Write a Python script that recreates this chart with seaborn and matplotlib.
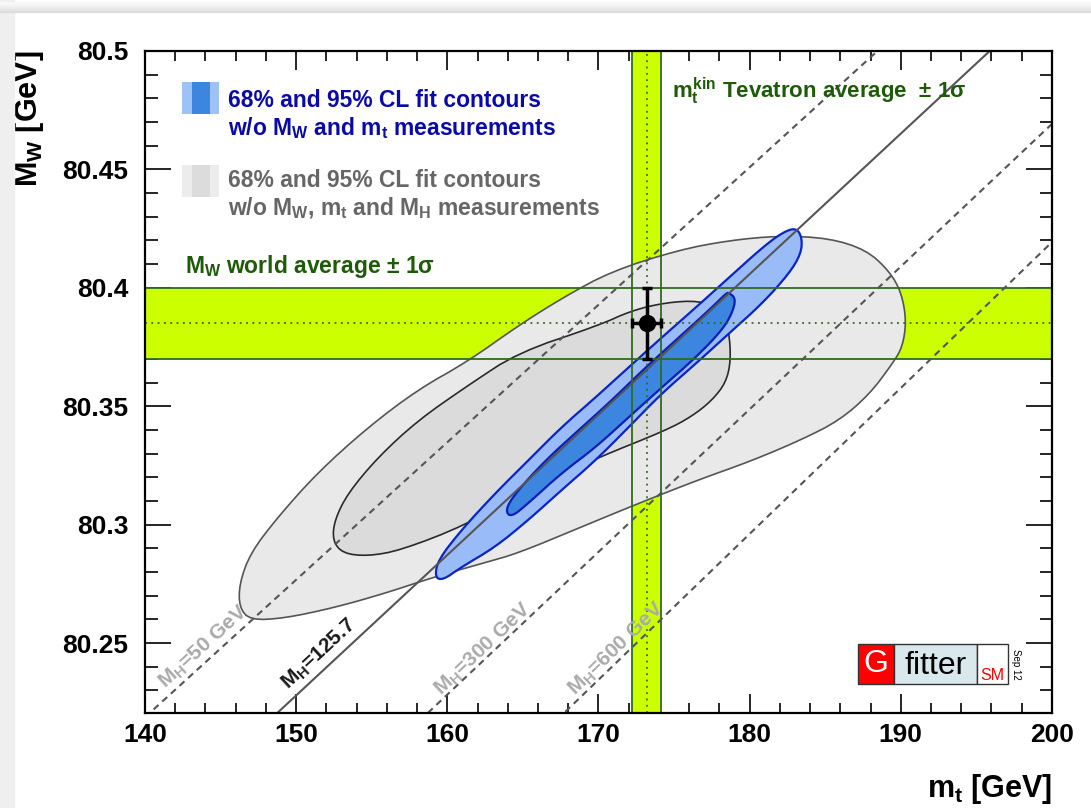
import numpy as np
import matplotlib
matplotlib.use("Agg")
import matplotlib.pyplot as plt
from matplotlib.patches import Rectangle
import seaborn as sns

# -------------------------------------------------
# Data read off the Gfitter (Sep 12) M_W vs m_t plot
# -------------------------------------------------
x_ticks = [140, 150, 160, 170, 180, 190, 200]
y_ticks = [80.25, 80.30, 80.35, 80.40, 80.45, 80.50]
y_tick_labels = ["80.25", "80.3", "80.35", "80.4", "80.45", "80.5"]

# direct measurements
mw_avg, mw_err = 80.385, 0.015
mt_avg, mt_err = 173.18, 0.94

# SM lines for fixed Higgs mass (M_W at m_t = 140 and 200 GeV)
mh_names = ["50 GeV", "125.7", "300 GeV", "600 GeV"]
mh_mw_at_140 = [80.2187, 80.1686, 80.1078, 80.0497]
mh_mw_at_200 = [80.5670, 80.5244, 80.4692, 80.4193]
mh_label_mt = [143.9, 151.55, 162.4, 171.2]
mh_label_mw = [80.2485, 80.2455, 80.2475, 80.2475]

# fit contours w/o M_W, m_t and M_H (95% and 68%)
gray95_mt = [146.24, 146.24, 146.97, 148.76, 151.42, 154.73, 158.05, 161.37, 164.69,
             167.68, 170.86, 175.31, 178.63, 181.95, 185.26, 187.72, 189.25, 190.04,
             190.37, 190.11, 189.45, 187.92, 185.93, 183.47, 180.15, 176.64, 172.65,
             168.67, 164.69, 162.50, 159.18, 155.86, 152.54, 149.23, 146.97]
gray95_mw = [80.265, 80.275, 80.288, 80.303, 80.322, 80.341, 80.357, 80.369, 80.384,
             80.396, 80.407, 80.416, 80.420, 80.422, 80.421, 80.416, 80.407, 80.398,
             80.386, 80.375, 80.368, 80.355, 80.344, 80.336, 80.327, 80.319, 80.309,
             80.2985, 80.288, 80.284, 80.278, 80.271, 80.265, 80.2605, 80.2597]

gray68_mt = [152.41, 152.54, 153.41, 155.40, 158.05, 161.37, 164.69, 170.00, 172.19,
             174.45, 176.64, 178.16, 178.63, 178.76, 178.43, 177.50, 176.17, 174.45,
             170.00, 165.55, 161.17, 156.92, 154.73, 153.07]
gray68_mw = [80.2934, 80.3019, 80.3132, 80.3284, 80.3440, 80.3588, 80.3727, 80.3841,
             80.3904, 80.3938, 80.3946, 80.3912, 80.3820, 80.3693, 80.3600, 80.3524,
             80.3457, 80.3398, 80.3284, 80.3153, 80.2997, 80.2892, 80.2867, 80.2879]

# fit contours w/o M_W and m_t (95% and 68%)
blue95_mt = [159.18, 159.38, 160.91, 163.16, 165.35, 167.54, 169.80, 171.99, 174.18,
             176.44, 178.63, 180.82, 182.15, 183.07, 183.47, 183.40, 182.61, 180.82,
             178.63, 176.44, 174.18, 171.99, 169.80, 167.54, 165.35, 163.16, 160.91,
             159.71]
blue95_mw = [80.2778, 80.2850, 80.2976, 80.3132, 80.3271, 80.3411, 80.3537, 80.3664,
             80.3790, 80.3917, 80.4043, 80.4169, 80.4233, 80.4254, 80.4212, 80.4144,
             80.4060, 80.3933, 80.3807, 80.3680, 80.3554, 80.3411, 80.3271, 80.3145,
             80.3019, 80.2905, 80.2820, 80.2766]

blue68_mt = [163.83, 164.49, 166.48, 168.67, 170.86, 173.12, 175.31, 177.50, 178.43,
             178.63, 179.09, 178.83, 178.16, 176.44, 174.18, 171.99, 169.80, 167.54,
             165.35, 164.22]
blue68_mw = [80.3061, 80.3132, 80.3271, 80.3398, 80.3524, 80.3664, 80.3790, 80.3917,
             80.3976, 80.3980, 80.3954, 80.3891, 80.3820, 80.3706, 80.3579, 80.3453,
             80.3326, 80.3217, 80.3090, 80.3031]

# colours
band_yellow = "#ccff00"
band_green = "#2f6b1f"
text_green = "#1e5a0a"


def smooth_closed(xs, ys, n_iter=2):
    # Chaikin corner cutting for a closed contour
    pts = np.column_stack([xs, ys]).astype(float)
    for _ in range(n_iter):
        nxt = np.roll(pts, -1, axis=0)
        q = 0.75 * pts + 0.25 * nxt
        r = 0.25 * pts + 0.75 * nxt
        new = np.empty((2 * len(pts), 2))
        new[0::2] = q
        new[1::2] = r
        pts = new
    return pts[:, 0], pts[:, 1]


sns.set_theme(style="ticks")
plt.rcParams["font.family"] = ["Liberation Sans", "DejaVu Sans"]
plt.rcParams["font.weight"] = "bold"
plt.rcParams["mathtext.fontset"] = "custom"
plt.rcParams["mathtext.rm"] = "Liberation Sans:bold"
plt.rcParams["mathtext.it"] = "Liberation Sans:bold"
plt.rcParams["mathtext.bf"] = "Liberation Sans:bold"

fig = plt.figure(figsize=(10.91, 8.08), dpi=100)
ax = fig.add_axes([0.1329, 0.1176, 0.8313, 0.8193])
ax.set_facecolor("white")

# screenshot frame
fig.patches.append(Rectangle((0, 0), 14 / 1091, 1, transform=fig.transFigure,
                             color="#efefef", zorder=0))
for i, c in enumerate(["#dcdcdc", "#e4e4e4", "#ebebeb", "#f1f1f1", "#f7f7f7"]):
    fig.patches.append(Rectangle((0, 1 - (12 - 2 * i) / 808), 1, 2 / 808,
                                 transform=fig.transFigure, color=c, zorder=0))

ax.set_xlim(140, 200)
ax.set_ylim(80.2205, 80.5)

# measurement bands
ax.axhspan(mw_avg - mw_err, mw_avg + mw_err, color=band_yellow, lw=0, zorder=1)
ax.axvspan(mt_avg - mt_err, mt_avg + mt_err, color=band_yellow, lw=0, zorder=1)

# contours
x, y = smooth_closed(gray95_mt, gray95_mw)
ax.fill(x, y, facecolor="#e9e9e9", edgecolor="#555555", lw=1.2, zorder=2)
x, y = smooth_closed(gray68_mt, gray68_mw)
ax.fill(x, y, facecolor="#dbdbdb", edgecolor="#2a2a2a", lw=1.2, zorder=3)
x, y = smooth_closed(blue95_mt, blue95_mw)
ax.fill(x, y, facecolor="#99bbf8", edgecolor="#0a24c8", lw=1.6, zorder=4)
x, y = smooth_closed(blue68_mt, blue68_mw)
ax.fill(x, y, facecolor="#3d86e0", edgecolor="#0a1fb8", lw=1.6, zorder=5)

# band edges and central values
for v in (mw_avg - mw_err, mw_avg + mw_err):
    ax.axhline(v, color=band_green, lw=1.3, zorder=6)
for v in (mt_avg - mt_err, mt_avg + mt_err):
    ax.axvline(v, color=band_green, lw=1.3, zorder=6)
ax.axhline(mw_avg, color=band_green, lw=1.3, ls=(0, (1, 2.5)), zorder=6)
ax.axvline(mt_avg, color=band_green, lw=1.3, ls=(0, (1, 2.5)), zorder=6)

# fixed-M_H lines
for name, y0, y1, lx, ly in zip(mh_names, mh_mw_at_140, mh_mw_at_200,
                                mh_label_mt, mh_label_mw):
    solid = name == "125.7"
    sns.lineplot(x=[140, 200], y=[y0, y1], ax=ax, color="#555555",
                 lw=1.5, zorder=7)
    line = ax.lines[-1]
    if not solid:
        line.set_dashes([3.2, 2.4])
    p0 = ax.transData.transform((140, y0))
    p1 = ax.transData.transform((200, y1))
    ang = np.degrees(np.arctan2(p1[1] - p0[1], p1[0] - p0[0]))
    ax.text(lx, ly, r"$M_H$=" + name, rotation=ang, rotation_mode="anchor",
            ha="center", va="center", fontsize=15, fontweight="bold",
            color="#1a1a1a" if solid else "#aaaaaa", zorder=8)

# measured point
ax.errorbar(mt_avg, mw_avg, xerr=mt_err, yerr=mw_err, fmt="o", color="black",
            ms=11.5, elinewidth=2.5, capsize=3.5, capthick=2.5, zorder=9)

# axes styling
ax.set_xticks(x_ticks)
ax.set_xticks(np.arange(140, 201, 2), minor=True)
ax.set_yticks(y_ticks)
ax.set_yticklabels(y_tick_labels)
ax.set_yticks(np.arange(80.23, 80.501, 0.01), minor=True)
ax.tick_params(which="both", direction="in", top=True, right=True, width=1.2,
               color="black", labelsize=19, labelcolor="black")
ax.tick_params(axis="x", which="major", length=14, pad=7)
ax.tick_params(axis="x", which="minor", length=7)
ax.tick_params(axis="y", which="major", length=19, pad=12)
ax.tick_params(axis="y", which="minor", length=9)
for lab in ax.get_xticklabels() + ax.get_yticklabels():
    lab.set_fontweight("bold")
for sp in ax.spines.values():
    sp.set_linewidth(1.6)
    sp.set_color("black")
    sp.set_zorder(10)

ax.set_xlabel(r"$m_t$ [GeV]", loc="right", fontsize=22, fontweight="bold",
              color="black")
ax.xaxis.set_label_coords(1.0, -0.089)
ax.set_ylabel(r"$M_W$ [GeV]", loc="top", fontsize=22, fontweight="bold",
              color="black")
ax.yaxis.set_label_coords(-0.109, 1.0)

# legend-like annotations
ax.add_patch(Rectangle((0.0408, 0.9048), 0.0408, 0.0484, transform=ax.transAxes,
                       color="#9ec1f7", lw=0, zorder=11))
ax.add_patch(Rectangle((0.0518, 0.9048), 0.0199, 0.0484, transform=ax.transAxes,
                       color="#3d86e0", lw=0, zorder=12))
ax.add_patch(Rectangle((0.0408, 0.7795), 0.0408, 0.0484, transform=ax.transAxes,
                       color="#ececec", lw=0, zorder=11))
ax.add_patch(Rectangle((0.0518, 0.7795), 0.0199, 0.0484, transform=ax.transAxes,
                       color="#dcdcdc", lw=0, zorder=12))

kw = dict(transform=ax.transAxes, fontsize=16.5, fontweight="bold", va="baseline",
          ha="left", zorder=12)
ax.text(0.0915, 0.9154, "68% and 95% CL fit contours", color="#0a0aa8", **kw)
ax.text(0.0915, 0.8731, r"w/o $M_W$ and $m_t$ measurements", color="#0a0aa8", **kw)
ax.text(0.0915, 0.7946, "68% and 95% CL fit contours", color="#666666", **kw)
ax.text(0.0915, 0.7523, r"w/o $M_W$, $m_t$ and $M_H$ measurements",
        color="#666666", **kw)
ax.text(0.0441, 0.6647, r"$M_W$ world average ± 1σ", color=text_green, **kw)
kw["fontsize"] = 16
ax.text(0.581, 0.929, r"$m_t^{kin}$ Tevatron average  ± 1σ", color=text_green, **kw)

# Gfitter logo
logo = [(0.7861, 0.8258, "#ff0000"), (0.8258, 0.9173, "#d8e8ec"),
        (0.9173, 0.9515, "white")]
for x0, x1, c in logo:
    ax.add_patch(Rectangle((x0, 0.0438), x1 - x0, 0.0604, transform=ax.transAxes,
                           facecolor=c, edgecolor="#333333", lw=1.0, zorder=12,
                           clip_on=False))
ax.text(0.806, 0.0735, "G", transform=ax.transAxes, color="white", fontsize=23,
        fontweight="normal", ha="center", va="center", zorder=13)
ax.text(0.8715, 0.0715, "fitter", transform=ax.transAxes, color="black",
        fontsize=23, fontweight="normal", ha="center", va="center", zorder=13)
ax.text(0.9344, 0.050, "SM", transform=ax.transAxes, color="#ff0000",
        fontsize=11.5, fontweight="normal", ha="center", va="baseline", zorder=13)
ax.text(0.9605, 0.074, "Sep 12", transform=ax.transAxes, color="black",
        fontsize=7, fontweight="normal", rotation=-90, ha="center",
        va="center", zorder=13)

fig.savefig("out.png", dpi=100, facecolor="white")
